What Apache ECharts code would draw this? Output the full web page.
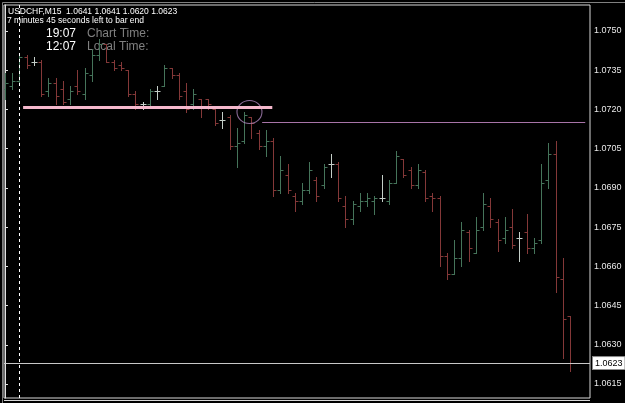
<!DOCTYPE html>
<html>
<head>
<meta charset="utf-8">
<script src="https://cdn.jsdelivr.net/npm/echarts@6/dist/echarts.min.js"></script>
<style>html,body{margin:0;padding:0;background:#000;}#c{width:625px;height:403px;}</style>
</head>
<body>
<div id="c"></div>
<script>
// ---- data ----
const opens = [1.0728,1.0729,1.0731,1.0740,1.0738,1.0738,1.0727,1.0730,1.0728,1.0724,
1.0729,1.0726,1.0733,1.0741,1.0745,1.0738,1.0737,1.0735,1.0726,1.0722,
1.0722,1.0727,1.0729,1.0736,1.0733,1.0727,1.0722,1.0724,1.0724,1.0720,
1.0716,1.0717,1.0706,1.0708,1.0717,1.0711,1.0706,1.0708,1.0689,1.0695,
1.0687,1.0685,1.0689,1.0693,1.0691,1.0699,1.0699,1.0683,1.0678,1.0683,
1.0685,1.0685,1.0686,1.0685,1.0692,1.0701,1.0697,1.0691,1.0696,1.0687,
1.0686,1.0664,1.0657,1.0663,1.0673,1.0665,1.0675,1.0683,1.0677,1.0671,
1.0675,1.0671,1.0673,1.0667,1.0670,1.0693,1.0703,1.0655,1.0641];
const highs = [1.0734,1.0734,1.0741,1.0741,1.0740,1.0739,1.0732,1.0732,1.0731,1.0729,
1.0735,1.0736,1.0743,1.0747,1.0745,1.0739,1.0738,1.0735,1.0727,1.0723,
1.0728,1.0729,1.0737,1.0736,1.0734,1.0730,1.0728,1.0724,1.0724,1.0721,
1.0719,1.0718,1.0713,1.0719,1.0717,1.0712,1.0712,1.0709,1.0702,1.0699,
1.0688,1.0692,1.0700,1.0694,1.0699,1.0703,1.0700,1.0687,1.0685,1.0688,
1.0688,1.0687,1.0695,1.0693,1.0704,1.0701,1.0698,1.0699,1.0697,1.0688,
1.0687,1.0665,1.0670,1.0677,1.0674,1.0679,1.0688,1.0686,1.0678,1.0679,
1.0682,1.0673,1.0680,1.0671,1.0699,1.0707,1.0708,1.0663,1.0641];
const lows = [1.0724,1.0728,1.0730,1.0736,1.0737,1.0725,1.0725,1.0722,1.0722,1.0722,
1.0726,1.0724,1.0731,1.0739,1.0738,1.0735,1.0735,1.0725,1.0720,1.0720,
1.0721,1.0724,1.0729,1.0732,1.0724,1.0719,1.0720,1.0717,1.0720,1.0714,
1.0713,1.0705,1.0698,1.0707,1.0709,1.0705,1.0702,1.0687,1.0688,1.0688,
1.0681,1.0684,1.0688,1.0685,1.0690,1.0694,1.0685,1.0675,1.0676,1.0681,
1.0683,1.0680,1.0685,1.0684,1.0692,1.0694,1.0690,1.0690,1.0685,1.0681,
1.0660,1.0655,1.0657,1.0660,1.0662,1.0665,1.0674,1.0675,1.0666,1.0669,
1.0667,1.0662,1.0665,1.0665,1.0669,1.0690,1.0650,1.0625,1.0620];
const closes = [1.0730,1.0731,1.0740,1.0737,1.0738,1.0726,1.0730,1.0725,1.0723,1.0727,
1.0727,1.0734,1.0741,1.0745,1.0738,1.0736,1.0736,1.0726,1.0722,1.0722,
1.0727,1.0727,1.0736,1.0733,1.0725,1.0720,1.0726,1.0721,1.0722,1.0715,
1.0716,1.0706,1.0707,1.0718,1.0715,1.0706,1.0708,1.0689,1.0697,1.0689,
1.0685,1.0689,1.0697,1.0687,1.0698,1.0699,1.0686,1.0678,1.0684,1.0685,
1.0686,1.0686,1.0686,1.0692,1.0702,1.0695,1.0691,1.0697,1.0686,1.0686,
1.0664,1.0657,1.0663,1.0674,1.0667,1.0674,1.0684,1.0678,1.0670,1.0674,
1.0668,1.0671,1.0667,1.0669,1.0692,1.0703,1.0656,1.0640,1.0623];
const yTicks = [1.0615,1.0630,1.0645,1.0660,1.0675,1.0690,1.0705,1.0720,1.0735,1.0750];
const currentPrice = 1.0623;
const pinkLevel = 1.0721, pinkFrom = 2.5, pinkTo = 36.9;
const purpleLevel = 1.0715, purpleFrom = 35.5, purpleTo = 80.1;
const separatorBar = 2;
const circlePoint = [33.75, 1.0719];
const headerLine1 = 'USDCHF,M15  1.0641 1.0641 1.0620 1.0623';
const headerLine2 = '7 minutes 45 seconds left to bar end';
const chartTime = '19:07', localTime = '12:07';

const X_MIN = -0.138, X_MAX = 80.76;
const ohlc = opens.map((o, i) => [i, o, highs[i], lows[i], closes[i]]);

const UP = '#45745a', DOWN = '#843838', DOJI = '#c4cec8';
const FONT = 'Liberation Sans';

const chart = echarts.init(document.getElementById('c'), null, {renderer: 'canvas'});
chart.setOption({
  backgroundColor: '#000',
  animation: false,
  grid: {left: 4, top: 5, right: 35, bottom: 5, show: true, borderColor: '#d8d8d8', borderWidth: 1, backgroundColor: '#000'},
  xAxis: {type: 'value', min: X_MIN, max: X_MAX, show: false},
  yAxis: {
    type: 'value', position: 'right', min: 1.060964, max: 1.075994, scale: true,
    axisLine: {show: true, lineStyle: {color: '#e0e0e0', width: 1}},
    axisTick: {show: true, length: 3, inside: false, customValues: yTicks, lineStyle: {color: '#e0e0e0'}},
    axisLabel: {show: true, customValues: yTicks, color: '#e8e8e8', fontFamily: FONT, fontSize: 9, margin: 4,
      formatter: v => v.toFixed(4)},
    splitLine: {show: false}
  },
  graphic: [
    {type: 'text', left: 8, top: 7, style: {text: headerLine1, fill: '#fff', font: '8.5px "Liberation Sans"'}},
    {type: 'text', left: 7, top: 16, style: {text: headerLine2, fill: '#fff', font: '8.5px "Liberation Sans"'}},
    {type: 'text', left: 46, top: 28, style: {text: chartTime, fill: '#fff', font: '12px "Liberation Sans"'}},
    {type: 'text', left: 87, top: 28, style: {text: 'Chart Time:', fill: '#808080', font: '12px "Liberation Sans"'}},
    {type: 'text', left: 46, top: 41, style: {text: localTime, fill: '#fff', font: '12px "Liberation Sans"'}},
    {type: 'text', left: 87, top: 41, style: {text: 'Local Time:', fill: '#808080', font: '12px "Liberation Sans"'}},
    {type: 'rect', left: 0, top: 0, shape: {width: 624, height: 402}, style: {fill: 'none', stroke: '#808080', lineWidth: 1}, silent: true},
    {type: 'line', shape: {x1: 4, y1: 400.5, x2: 590, y2: 400.5}, style: {stroke: '#d8d8d8', lineWidth: 1}, silent: true}
  ],
  series: [
    {
      type: 'custom',
      data: ohlc,
      encode: {x: 0, y: [1, 2, 3, 4]},
      clip: true,
      renderItem: function (params, api) {
        const i = api.value(0), o = api.value(1), h = api.value(2), l = api.value(3), c = api.value(4);
        const x = Math.round(api.coord([i, o])[0]) + 0.5;
        const yo = Math.round(api.coord([i, o])[1]) + 0.5;
        const yh = Math.round(api.coord([i, h])[1]) + 0.5;
        const yl = Math.round(api.coord([i, l])[1]) + 0.5;
        const yc = Math.round(api.coord([i, c])[1]) + 0.5;
        const col = c > o ? UP : (c < o ? DOWN : DOJI);
        const st = {stroke: col, lineWidth: 1};
        return {type: 'group', children: [
          {type: 'line', shape: {x1: x, y1: yh - 0.5, x2: x, y2: yl + 0.5}, style: st},
          {type: 'line', shape: {x1: x - 3, y1: yo, x2: x, y2: yo}, style: st},
          {type: 'line', shape: {x1: x, y1: yc, x2: x + 3, y2: yc}, style: st}
        ]};
      },
      markLine: {
        silent: true, symbol: ['none', 'none'], animation: false,
        data: [
          [{coord: [X_MIN, currentPrice], lineStyle: {color: '#c8c8c8', width: 1, type: 'solid'},
            label: {show: true, position: 'end', distance: 3, formatter: () => currentPrice.toFixed(4),
              color: '#000', backgroundColor: '#fff', borderColor: '#888', borderWidth: 1,
              padding: [2, 2, 1, 2], fontFamily: FONT, fontSize: 9}},
           {coord: [X_MAX, currentPrice]}],
          {xAxis: separatorBar, lineStyle: {color: '#ffffff', width: 1, type: [3, 3]}, label: {show: false}},
          [{coord: [pinkFrom, pinkLevel], lineStyle: {color: '#f4b8cc', width: 3, type: 'solid'}, label: {show: false}},
           {coord: [pinkTo, pinkLevel]}],
          [{coord: [purpleFrom, purpleLevel], lineStyle: {color: '#a874a8', width: 1, type: 'solid'}, label: {show: false}},
           {coord: [purpleTo, purpleLevel]}]
        ]
      }
    },
    {
      type: 'scatter',
      data: [circlePoint],
      symbol: 'circle',
      symbolSize: [25, 23],
      silent: true,
      itemStyle: {color: 'rgba(0,0,0,0)', borderColor: '#b088c0', borderWidth: 1}
    }
  ]
});
</script>
</body>
</html>
